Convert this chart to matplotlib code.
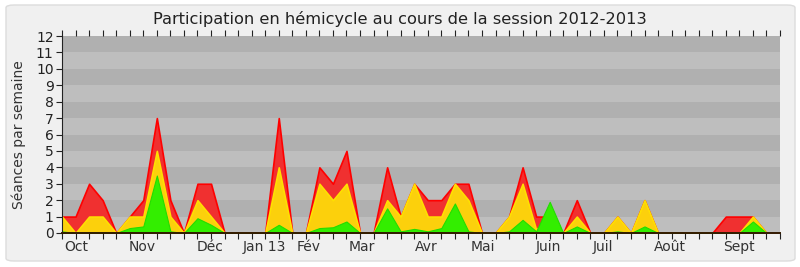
import numpy as np
import matplotlib
matplotlib.use("Agg")
import matplotlib.pyplot as plt
from matplotlib.patches import FancyBboxPatch

# weekly values, session 2012-2013 (week index 0..52)
red = [1, 1, 3, 2, 0, 1, 2, 7, 2, 0, 3, 3, 0, 0, 0, 0, 7, 0,
       0, 4, 3, 5, 0, 0, 4, 1, 3, 2, 2, 3, 3, 0, 0, 1, 4, 1,
       1, 0, 2, 0, 0, 1, 0, 2, 0, 0, 0, 0, 0, 1, 1, 1, 0]
yellow = [1, 0, 1, 1, 0, 1, 1, 5, 1, 0, 2, 1, 0, 0, 0, 0, 4, 0,
          0, 3, 2, 3, 0, 0, 2, 1, 3, 1, 1, 3, 2, 0, 0, 1, 3, 0.2,
          1, 0, 1, 0, 0, 1, 0, 2, 0, 0, 0, 0, 0, 0, 0, 1, 0]
green = [0.1, 0, 0.05, 0.05, 0, 0.3, 0.4, 3.5, 0.1, 0, 0.9, 0.5, 0, 0, 0, 0, 0.5, 0,
         0, 0.3, 0.35, 0.7, 0, 0, 1.5, 0.1, 0.25, 0.1, 0.3, 1.8, 0.1, 0, 0, 0.1, 0.8, 0.1,
         1.9, 0, 0.4, 0, 0, 0.1, 0, 0.4, 0, 0, 0, 0, 0, 0, 0, 0.7, 0]

month_labels = ["Oct", "Nov", "Déc", "Jan 13", "Fév", "Mar", "Avr", "Mai",
                "Juin", "Juil", "Août", "Sept"]
month_pos = [1.05, 5.95, 10.9, 14.95, 18.2, 22.1, 26.9, 31.1, 35.9, 39.9, 44.9, 50.0]

weeks = np.arange(len(red))

fig = plt.figure(figsize=(8, 2.67), dpi=100)
fig.patch.set_facecolor("white")
panel = FancyBboxPatch((6 / 800, 6 / 267), 789 / 800, 256 / 267,
                       boxstyle="round,pad=0,rounding_size=0.01",
                       transform=fig.transFigure, facecolor="#f0f0f0",
                       edgecolor="#dcdcdc", linewidth=1, zorder=-10)
fig.patches.append(panel)

ax = fig.add_axes([62 / 800, 34 / 267, 718 / 800, 197 / 267])
ax.set_facecolor("#bebebe")

# alternating bands
for k in range(12):
    ax.axhspan(k, k + 1, color="#b0b0b0" if k % 2 == 1 else "#bebebe", lw=0, zorder=0)

ax.fill_between(weeks, red, color="#f03030", edgecolor="#ff0000", lw=1.2, zorder=2)
ax.fill_between(weeks, yellow, color="#fcd00c", edgecolor="#ffe000", lw=1.2, zorder=3)
ax.fill_between(weeks, green, color="#33ee00", edgecolor="#22dd00", lw=0.8, zorder=4)

ax.set_xlim(0, 53)
ax.set_ylim(0, 12)
ax.set_yticks(range(13))
ax.tick_params(axis="y", direction="out", length=4, labelsize=10, colors="#222222", pad=2)
ax.set_xticks(np.arange(0, 54))
ax.set_xticklabels([])
ax.tick_params(axis="x", direction="out", length=4, colors="#222222", top=True)
for p, lab in zip(month_pos, month_labels):
    ax.text(p, -0.45, lab, ha="center", va="top", fontsize=10, color="#333333",
            transform=ax.transData, clip_on=False)

for side in ["top", "right"]:
    ax.spines[side].set_visible(False)
ax.spines["left"].set_color("#222222")
ax.spines["bottom"].set_color("#331a00")
ax.spines["bottom"].set_linewidth(1.4)
for sp in ax.spines.values():
    sp.set_zorder(10)

ax.set_ylabel("Séances par semaine", fontsize=10, color="#333333", labelpad=7)
fig.text(0.5, 0.929, "Participation en hémicycle au cours de la session 2012-2013",
         ha="center", va="center", fontsize=11.7, color="#222222")

fig.savefig("out.png", dpi=100, facecolor=fig.get_facecolor())
